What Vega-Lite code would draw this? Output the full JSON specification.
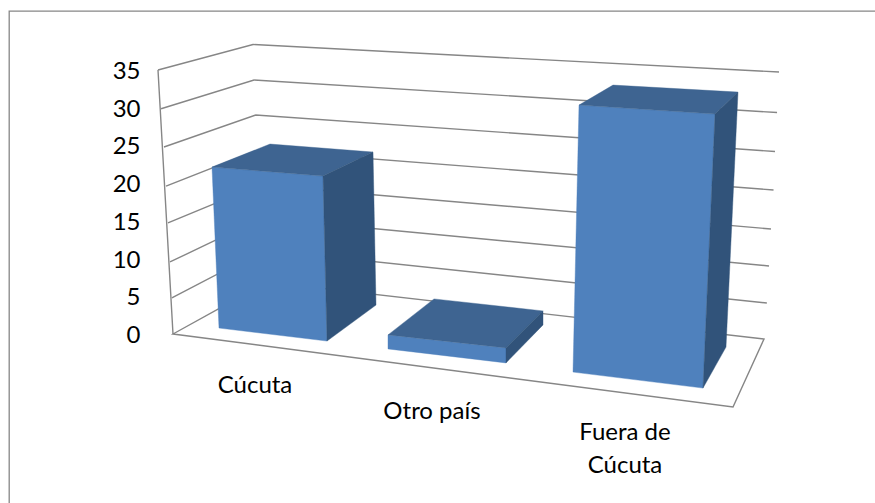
{"$schema":"https://vega.github.io/schema/vega-lite/v6.json","width":870,"height":495,"autosize":{"type":"none"},"padding":{"left":9,"top":11,"right":0,"bottom":0},"background":"white","view":{"stroke":"#868686","strokeWidth":1.3,"fill":"white"},"datasets":{"bars":[{"category":"Cúcuta","value":22},{"category":"Otro país","value":2},{"category":"Fuera de Cúcuta","value":33}],"grid":[{"value":0},{"value":5},{"value":10},{"value":15},{"value":20},{"value":25},{"value":30},{"value":35}]},"encoding":{"y":{"field":"value","type":"quantitative","title":null,"scale":{"domain":[0,35],"range":[323,59],"nice":false},"axis":{"values":[0,5,10,15,20,25,30,35],"grid":false,"domain":false,"ticks":false,"offset":-131,"labelPadding":0,"labelOffset":1.5,"labelFont":"Lato","labelFontSize":24,"labelColor":"#000000"}}},"layer":[{"data":{"name":"grid"},"mark":{"type":"point","filled":false,"opacity":1,"size":4,"stroke":"#868686","strokeWidth":1.4},"encoding":{"x":{"field":"value","type":"quantitative","scale":{"domain":[0,35],"range":[164,149],"nice":false,"zero":false},"axis":null},"shape":{"field":"value","type":"ordinal","legend":null,"scale":{"domain":[0,5,10,15,20,25,30,35],"range":["M0,0L94,-52L591,5L560,73Z","M1,1.7L93,-46.3L596,6.7","M1.3,3.4L93.3,-40.6L600.3,7.4","M1.4,2.1L93.4,-35.9L604.4,8.1","M1.6,2.9L93.6,-33.1L609.1,6.9","M1.7,1.6L93.4,-30.4L612.7,6.1","M0.9,1L93.9,-27.7L616.9,4.8","M0,0L95,-25.5L621,2M0,0L15,264"]}}}},{"data":{"name":"bars"},"mark":{"type":"point","filled":true,"opacity":1,"size":4,"fill":"#4F81BD","stroke":"#4F81BD","strokeWidth":0.4},"encoding":{"x":{"field":"category","type":"nominal","scale":{"type":"point","domain":["Cúcuta","Otro país","Fuera de Cúcuta"],"range":[261,613],"padding":0},"axis":null},"shape":{"field":"category","type":"nominal","legend":null,"scale":{"domain":["Cúcuta","Otro país","Fuera de Cúcuta"],"range":["M-58,-1L53,8L57,173L-51,160Z","M-58,16L60,29L60,44L-58,30Z","M-43,20L93,29L81,303L-49,287Z"]}}}},{"data":{"name":"bars"},"mark":{"type":"point","filled":true,"opacity":1,"size":4,"fill":"#3E6491","stroke":"#3E6491","strokeWidth":0.4},"encoding":{"x":{"field":"category","type":"nominal","scale":{"type":"point","domain":["Cúcuta","Otro país","Fuera de Cúcuta"],"range":[261,613],"padding":0},"axis":null},"shape":{"field":"category","type":"nominal","legend":null,"scale":{"domain":["Cúcuta","Otro país","Fuera de Cúcuta"],"range":["M-58,-1L0,-24L103,-16L53,8Z","M-58,16L-12,-20L97,-8L60,29Z","M-43,20L-9,0L116,7L93,29Z"]}}}},{"data":{"name":"bars"},"mark":{"type":"point","filled":true,"opacity":1,"size":4,"fill":"#31537A","stroke":"#31537A","strokeWidth":0.4},"encoding":{"x":{"field":"category","type":"nominal","scale":{"type":"point","domain":["Cúcuta","Otro país","Fuera de Cúcuta"],"range":[261,613],"padding":0},"axis":null},"shape":{"field":"category","type":"nominal","legend":null,"scale":{"domain":["Cúcuta","Otro país","Fuera de Cúcuta"],"range":["M53,8L103,-16L106,137L57,173Z","M60,29L97,-8L97,6L60,44Z","M93,29L116,7L104,262L81,303Z"]}}}},{"data":{"name":"bars"},"transform":[{"filter":"datum.category === 'Cúcuta'"}],"mark":{"type":"text","font":"Lato","fontSize":24,"color":"#000000","align":"center","baseline":"middle","dx":-15,"dy":52},"encoding":{"x":{"field":"category","type":"nominal","scale":{"type":"point","domain":["Cúcuta","Otro país","Fuera de Cúcuta"],"range":[261,613],"padding":0},"axis":null},"y":{"datum":0},"text":{"field":"category"}}},{"data":{"name":"bars"},"transform":[{"filter":"datum.category === 'Otro país'"}],"mark":{"type":"text","font":"Lato","fontSize":24,"color":"#000000","align":"center","baseline":"middle","dx":-14,"dy":78},"encoding":{"x":{"field":"category","type":"nominal","scale":{"type":"point","domain":["Cúcuta","Otro país","Fuera de Cúcuta"],"range":[261,613],"padding":0},"axis":null},"y":{"datum":0},"text":{"field":"category"}}},{"data":{"name":"bars"},"transform":[{"filter":"datum.category === 'Fuera de Cúcuta'"}],"mark":{"type":"text","font":"Lato","fontSize":24,"lineHeight":33,"color":"#000000","align":"center","baseline":"middle","dx":3,"dy":99},"encoding":{"x":{"field":"category","type":"nominal","scale":{"type":"point","domain":["Cúcuta","Otro país","Fuera de Cúcuta"],"range":[261,613],"padding":0},"axis":null},"y":{"datum":0},"text":{"value":["Fuera de","Cúcuta"]}}}],"resolve":{"scale":{"x":"independent","shape":"independent"}}}
